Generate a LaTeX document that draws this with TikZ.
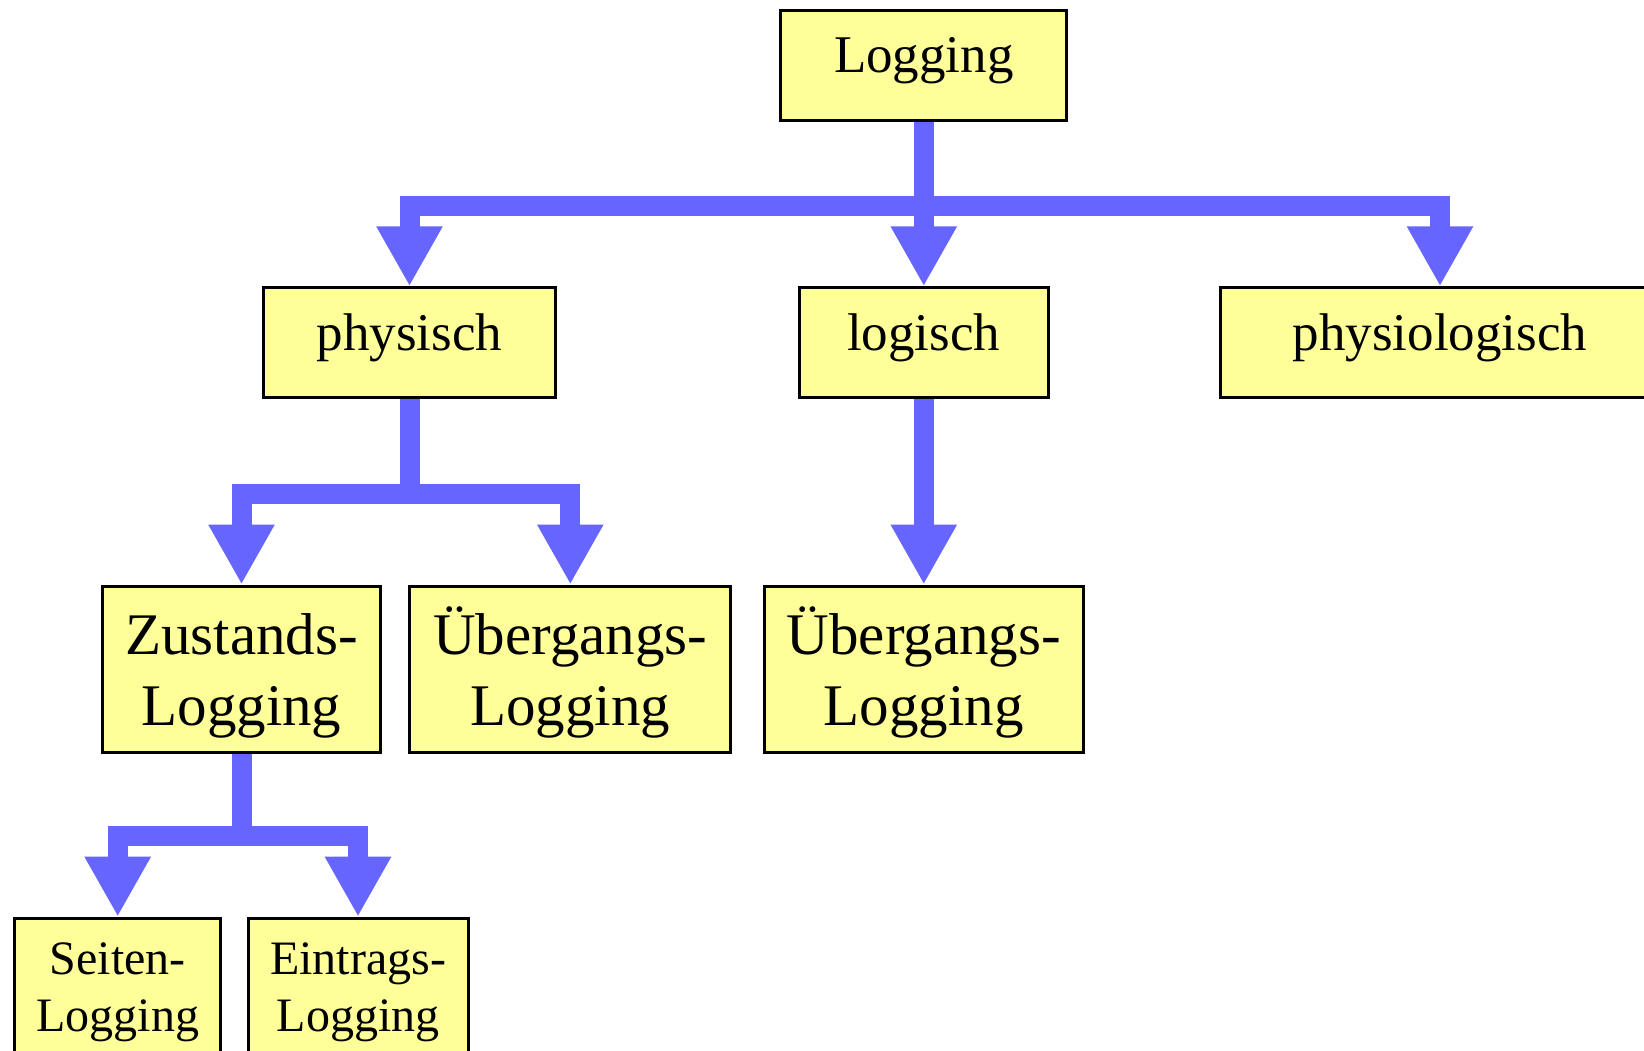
\documentclass[tikz,border=0pt]{standalone}
\usepackage{fontspec}
\setmainfont{Liberation Serif}
\usepackage{tikz}
\usetikzlibrary{arrows.meta}
\usepackage{color}
\definecolor{canary}{RGB}{255, 255, 153}
\definecolor{periwinkle}{RGB}{102, 102, 255}
\tikzset{
    logbox/.style   ={draw=black, fill=canary, line width=1.5pt, inner sep=0pt, align=center},
    bigtext/.style  ={font=\fontsize{26.5}{32}\selectfont, text height=18pt, text depth=10.6pt, minimum height=55pt},
    midtext/.style  ={font=\fontsize{29.5}{35.5}\selectfont, text height=60pt, text depth=4.4pt, minimum height=83.4pt},
    smalltext/.style={font=\fontsize{24}{28.5}\selectfont, text height=48pt, text depth=3.5pt, minimum height=68.8pt},
    flow/.style     ={draw=periwinkle, line width=10pt, line join=miter, -{Triangle[width=31pt,length=30pt]}}
}
\begin{document}
\begin{tikzpicture}[x=0.5pt, y=-0.5pt]
            \path[use as bounding box, clip] (0,0) rectangle (1644,1050);
            \node[logbox, bigtext, minimum width=143pt, minimum height=55.3pt] (log)    at ( 923.8, 65.4) {Logging};
            \node[logbox, bigtext, minimum width=146.3pt]                      (phys)   at ( 409.5,342.8) {physisch};
            \node[logbox, bigtext, minimum width=124.3pt]                      (logi)   at ( 923.8,342.8) {logisch};
            \node[logbox, bigtext, minimum width=219.5pt]                      (physio) at (1440.0,342.8) {physiologisch};
            \node[logbox, midtext, minimum width=139pt]                        (zust)   at ( 241.5,669.4) {Zustands-\\Logging};
            \node[logbox, midtext, minimum width=160.4pt]                      (uebp)   at ( 570.3,669.4) {Übergangs-\\Logging};
            \node[logbox, midtext, minimum width=159.4pt]                      (uebl)   at ( 923.8,669.4) {Übergangs-\\Logging};
            \node[logbox, smalltext, minimum width=103pt, anchor=north]        (seit)   at ( 117.7,916.7) {Seiten-\\Logging};
            \node[logbox, smalltext, minimum width=110pt, anchor=north]        (eint)   at ( 358.0,916.7) {Eintrags-\\Logging};
            \draw[flow] (log.south)  -- ++(0,83.6) -| (phys.north);
            \draw[flow] (log.south)  -- ++(0,83.6) -| (physio.north);
            \draw[flow] (log.south)  -- (logi.north);
            \draw[flow] (phys.south) -- ++(0,94.3) -| (zust.north);
            \draw[flow] (phys.south) -- ++(0,94.3) -| (uebp.north);
            \draw[flow] (logi.south) -- (uebl.north);
            \draw[flow] (zust.south) -- ++(0,81.6) -| (seit.north);
            \draw[flow] (zust.south) -- ++(0,81.6) -| (eint.north);
\end{tikzpicture}
\end{document}
